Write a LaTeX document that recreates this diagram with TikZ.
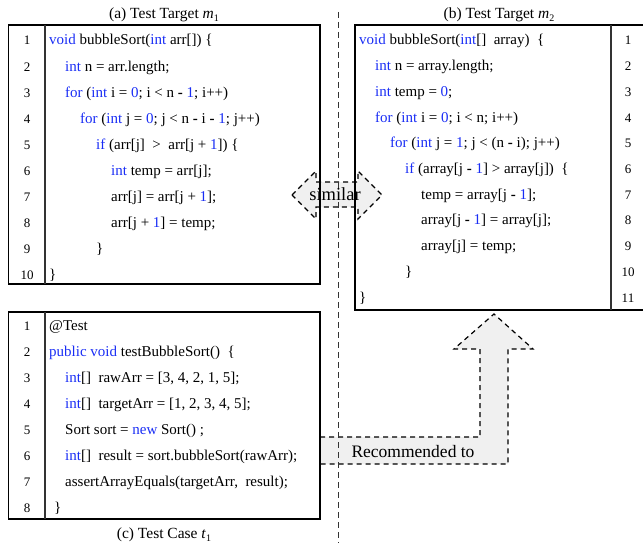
\documentclass[tikz,border=0pt]{standalone}
\usepackage{fontspec}
\setmainfont{Liberation Serif}
\definecolor{kwblue}{RGB}{25,45,245}
\definecolor{arrowgray}{RGB}{240,240,240}
\newcommand{\kw}[1]{\textcolor{kwblue}{#1}}
\newcommand{\mn}{\textbf{-}}
\newcommand{\sub}[1]{\raisebox{-3pt}{\fontsize{10}{10}\selectfont #1}}
\tikzset{
  codetxt/.style={anchor=base west,inner sep=0pt,font=\fontsize{15}{18}\selectfont},
  numtxt/.style={anchor=base,inner sep=0pt,font=\fontsize{13}{16}\selectfont},
  captxt/.style={anchor=base,inner sep=0pt,font=\fontsize{15.5}{18}\selectfont},
  outer/.style={line width=1.6pt,black},
  divider/.style={line width=1.2pt,black!80},
  dashbox/.style={draw=black,fill=arrowgray,line width=1.2pt,dash pattern=on 5pt off 4pt},
  sepline/.style={line width=0.9pt,black!80,dash pattern=on 6pt off 4pt}
}
\begin{document}
\begin{tikzpicture}[x=1pt,y=-1pt]
\useasboundingbox (0,0) rectangle (643,543);
% arrows (background)
\draw[dashbox] (292,195) -- (316,171) -- (316,182) -- (358,182) -- (358,171) -- (382,195)
  -- (358,219) -- (358,207) -- (316,207) -- (316,219) -- cycle;
\fill[arrowgray] (320,437) -- (480,437) -- (480,349) -- (454,349) -- (494,314) -- (533,349)
  -- (508,349) -- (508,464) -- (320,464) -- cycle;
\draw[dashbox,fill=none] (320,437) -- (480,437) -- (480,349) -- (454,349) -- (494,314) -- (533,349)
  -- (508,349) -- (508,464) -- (320,464);
% separator
\coordinate (septop) at (338,12);
\coordinate (sepbot) at (338,543);
\draw[sepline] (septop) -- (sepbot);
% box a
\draw[outer] (8.5,25) rectangle (320,284);
\draw[divider] (45,25) -- (45,284);
% box b
\draw[outer] (645,25) -- (355,25) -- (355,310) -- (645,310);
\draw[divider] (611,25) -- (611,310);
% box c
\draw[outer] (8.5,312) rectangle (320,519);
\draw[divider] (45,312) -- (45,519);
% captions
\node[captxt] (capa) at (164,19) {(a) Test Target \textit{m}\sub{1}};
\node[captxt] (capb) at (499,19) {(b) Test Target \textit{m}\sub{2}};
\node[captxt] (capc) at (164,538) {(c) Test Case \textit{t}\sub{1}};
% arrow labels
\node[anchor=base,inner sep=0pt,font=\fontsize{18.5}{20}\selectfont] (sim) at (335,200) {similar};
\node[anchor=base,inner sep=0pt,font=\fontsize{17.5}{20}\selectfont] (rec) at (413,457) {Recommended to};
% box a code
\foreach \n in {1,...,10} \node[numtxt] (na\n) at (27,{45+26*(\n-1)}) {\n};
\node[codetxt] (a1) at (49,45) {\kw{void} bubbleSort(\kw{int} arr[]) \{};
\node[codetxt] (a2) at (65,71) {\kw{int} n = arr.length;};
\node[codetxt] (a3) at (65,97) {\kw{for} (\kw{int} i = \kw{0}; i < n \mn{} \kw{1}; i++)};
\node[codetxt] (a4) at (80,123) {\kw{for} (\kw{int} j = \kw{0}; j < n \mn{} i \mn{} \kw{1}; j++)};
\node[codetxt] (a5) at (96,149) {\kw{if} (arr[j]\ \ >\ \ arr[j + \kw{1}]) \{};
\node[codetxt] (a6) at (111,175) {\kw{int} temp = arr[j];};
\node[codetxt] (a7) at (111,201) {arr[j] = arr[j + \kw{1}];};
\node[codetxt] (a8) at (111,227) {arr[j + \kw{1}] = temp;};
\node[codetxt] (a9) at (96,253) {\}};
\node[codetxt] (a10) at (49,279) {\}};
% box b code
\foreach \n in {1,...,11} \node[numtxt] (nb\n) at (628,{45+25.7*(\n-1)}) {\n};
\node[codetxt] (b1) at (359,45) {\kw{void} bubbleSort(\kw{int}[]\ \ array)\ \ \{};
\node[codetxt] (b2) at (375,70.7) {\kw{int} n = array.length;};
\node[codetxt] (b3) at (375,96.4) {\kw{int} temp = \kw{0};};
\node[codetxt] (b4) at (375,122.1) {\kw{for} (\kw{int} i = \kw{0}; i < n; i++)};
\node[codetxt] (b5) at (390,147.8) {\kw{for} (\kw{int} j = \kw{1}; j < (n \mn{} i); j++)};
\node[codetxt] (b6) at (405,173.5) {\kw{if} (array[j \mn{} \kw{1}] > array[j])\ \ \{};
\node[codetxt] (b7) at (421,199.2) {temp = array[j \mn{} \kw{1}];};
\node[codetxt] (b8) at (421,224.9) {array[j \mn{} \kw{1}] = array[j];};
\node[codetxt] (b9) at (421,250.6) {array[j] = temp;};
\node[codetxt] (b10) at (405,276.3) {\}};
\node[codetxt] (b11) at (359,302) {\}};
% box c code
\foreach \n in {1,...,8} \node[numtxt] (nc\n) at (27,{330+26.1*(\n-1)}) {\n};
\node[codetxt] (c1) at (49,330) {@Test};
\node[codetxt] (c2) at (49,356.1) {\kw{public} \kw{void} testBubbleSort()\ \ \{};
\node[codetxt] (c3) at (65,382.2) {\kw{int}[]\ \ rawArr = [3, 4, 2, 1, 5];};
\node[codetxt] (c4) at (65,408.3) {\kw{int}[]\ \ targetArr = [1, 2, 3, 4, 5];};
\node[codetxt] (c5) at (65,434.4) {Sort sort = \kw{new} Sort()\ ;};
\node[codetxt] (c6) at (65,460.5) {\kw{int}[]\ \ result = sort.bubbleSort(rawArr);};
\node[codetxt] (c7) at (65,486.6) {assertArrayEquals(targetArr,\ \ result);};
\node[codetxt] (c8) at (54,512.7) {\}};
\end{tikzpicture}
\end{document}
